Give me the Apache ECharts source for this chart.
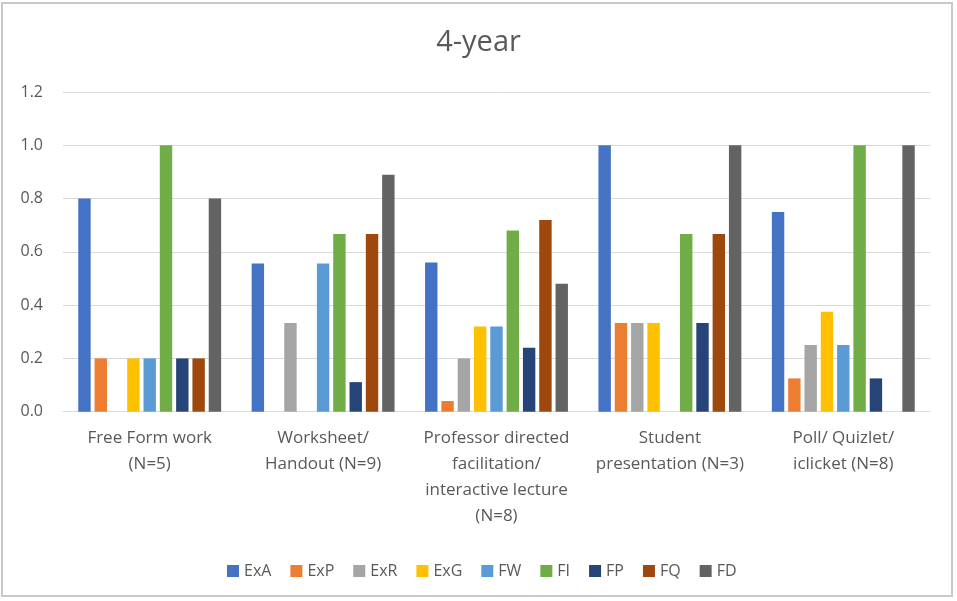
<!DOCTYPE html>
<html>
<head>
<meta charset="utf-8">
<script src="https://cdn.jsdelivr.net/npm/echarts@6/dist/echarts.min.js"></script>
<style>
  html, body { margin: 0; padding: 0; background: #ffffff; }
  #frame { position: absolute; left: 1px; top: 2px; width: 952px; height: 595px; border: 2px solid #c8c8c8; box-sizing: border-box; pointer-events: none; }
  #chart { position: absolute; left: 0; top: 0; width: 957px; height: 601px; }
</style>
</head>
<body>
<div id="chart"></div>
<div id="frame"></div>
<script>
const title = '4-year';
const categories = [
  'Free Form work\n(N=5)',
  'Worksheet/\nHandout (N=9)',
  'Professor directed\nfacilitation/\ninteractive lecture\n(N=8)',
  'Student\npresentation (N=3)',
  'Poll/ Quizlet/\niclicket (N=8)'
];
const seriesNames = ['ExA', 'ExP', 'ExR', 'ExG', 'FW', 'FI', 'FP', 'FQ', 'FD'];
const ExA = [0.8, 0.556, 0.56, 1.0, 0.75];
const ExP = [0.2, 0, 0.04, 0.333, 0.125];
const ExR = [0, 0.333, 0.2, 0.333, 0.25];
const ExG = [0.2, 0, 0.32, 0.333, 0.375];
const FW  = [0.2, 0.556, 0.32, 0, 0.25];
const FI  = [1.0, 0.667, 0.68, 0.667, 1.0];
const FP  = [0.2, 0.111, 0.24, 0.333, 0.125];
const FQ  = [0.2, 0.667, 0.72, 0.667, 0];
const FD  = [0.8, 0.889, 0.48, 1.0, 1.0];
const yTicks = [0, 0.2, 0.4, 0.6, 0.8, 1.0, 1.2];
const colors = ['#4472C4', '#ED7D31', '#A5A5A5', '#FFC000', '#5B9BD5', '#70AD47', '#264478', '#9E480E', '#636363'];

const values = [ExA, ExP, ExR, ExG, FW, FI, FP, FQ, FD];
const chart = echarts.init(document.getElementById('chart'), null, { renderer: 'canvas' });
const textColor = '#595959';
const font = '"Open Sans", sans-serif';

chart.setOption({
  animation: false,
  backgroundColor: 'transparent',
  color: colors,
  title: {
    text: title,
    left: 'center',
    top: 23,
    textStyle: { fontFamily: font, fontSize: 29, fontWeight: 'normal', color: textColor }
  },
  legend: {
    data: seriesNames,
    left: 222,
    top: 558,
    icon: 'rect',
    itemWidth: 12,
    itemHeight: 12,
    itemGap: 19,
    textStyle: { fontFamily: font, fontSize: 16, color: textColor }
  },
  grid: { left: 63, right: 27, top: 92, bottom: 601 - 411.7, containLabel: false },
  xAxis: {
    type: 'category',
    data: categories,
    axisLine: { lineStyle: { color: '#d9d9d9', width: 1 } },
    axisTick: { show: false },
    axisLabel: {
      interval: 0,
      margin: 13,
      fontFamily: font,
      fontSize: 17,
      lineHeight: 26,
      color: textColor,
      align: 'center'
    }
  },
  yAxis: {
    type: 'value',
    min: yTicks[0],
    max: yTicks[yTicks.length - 1],
    interval: 0.2,
    axisLine: { show: false },
    axisTick: { show: false },
    splitLine: { lineStyle: { color: '#d9d9d9', width: 1 } },
    axisLabel: {
      margin: 20,
      fontFamily: font,
      fontSize: 16,
      color: textColor,
      formatter: v => v.toFixed(1)
    }
  },
  series: seriesNames.map((name, i) => ({
    name: name,
    type: 'bar',
    data: values[i],
    barGap: '31.5%',
    barCategoryGap: '17.6%',
    itemStyle: { color: colors[i] }
  }))
});
</script>
</body>
</html>
